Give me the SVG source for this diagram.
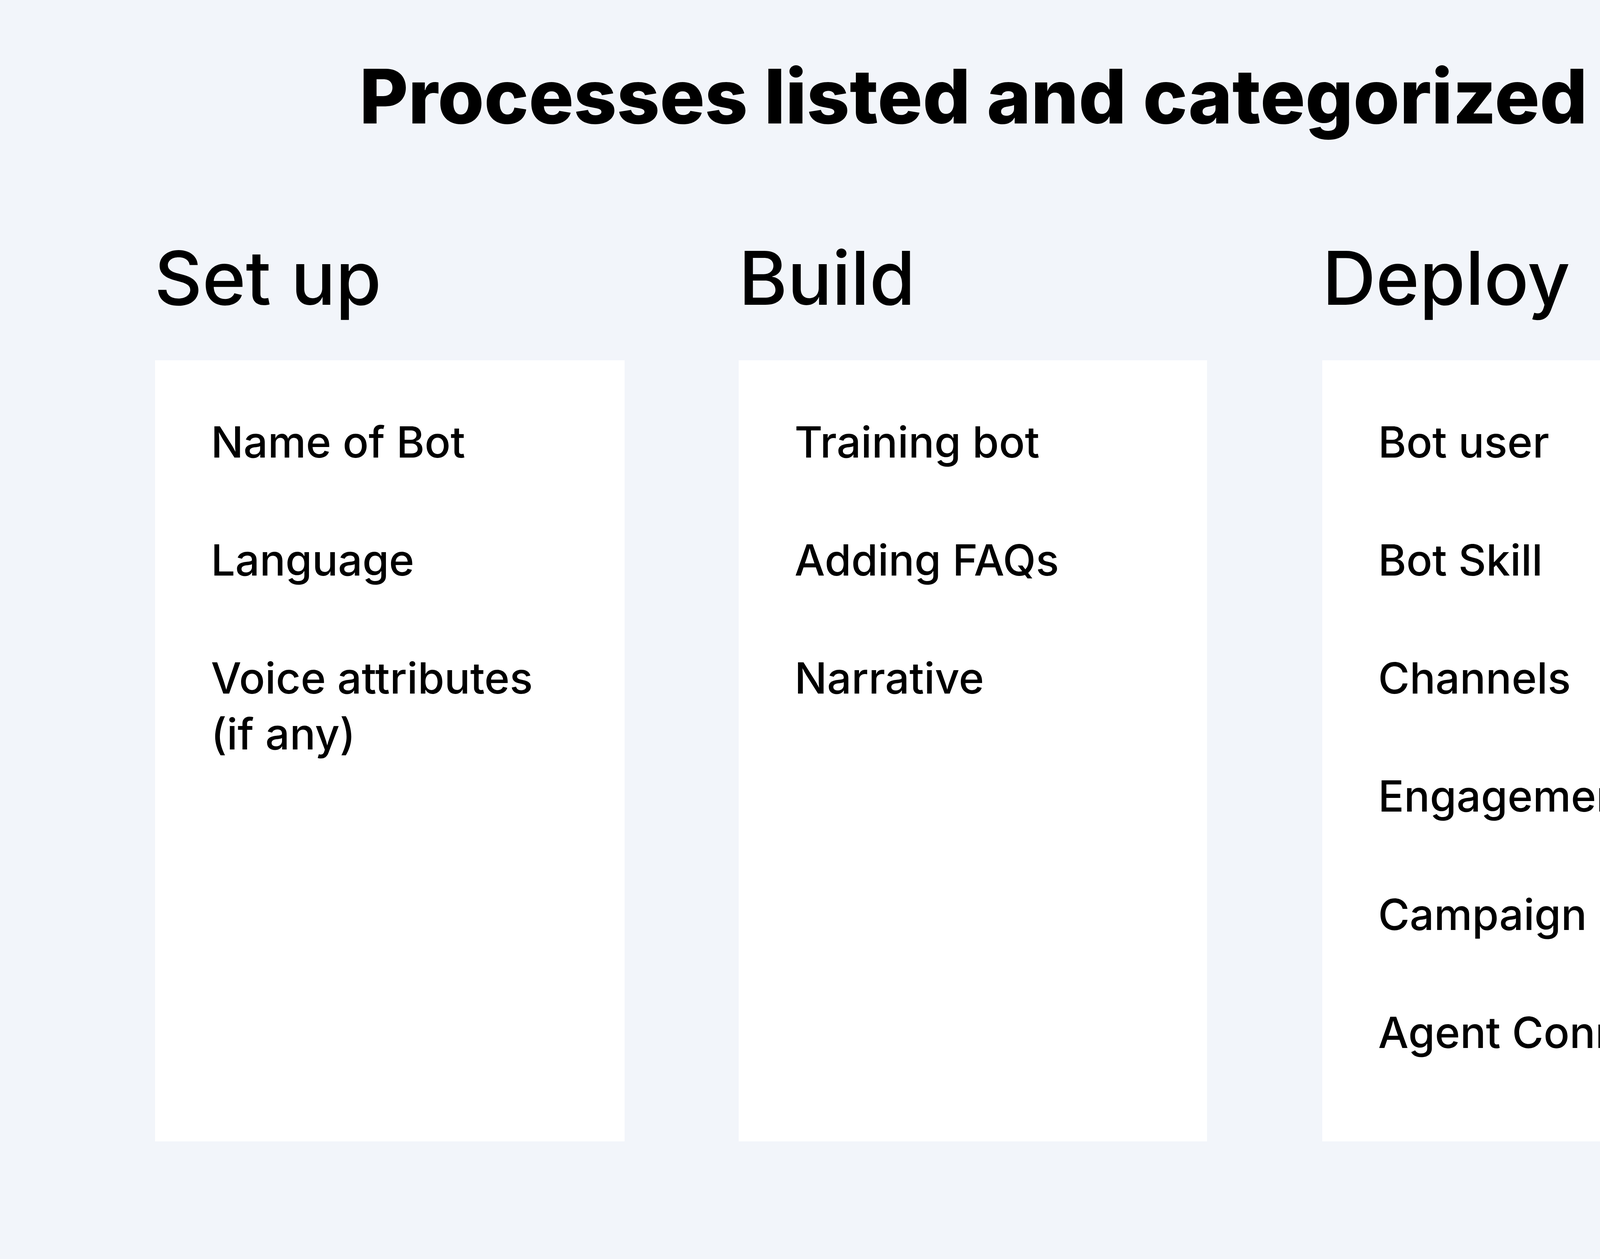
<svg xmlns="http://www.w3.org/2000/svg" width="4984" height="3222" viewBox="0 0 4984 3222">
<style>
.t{font-family:Inter,"Liberation Sans",sans-serif;fill:#000}
.title{font-size:192px;font-weight:800}
.h{font-size:190px;font-weight:500}
.i{font-size:110px;font-weight:500}
.box{fill:#fff}
</style>
<rect width="4984" height="3222" fill="#f2f5fa"/>
<text class="t title" x="2492" y="316" text-anchor="middle">Processes listed and categorized</text>
<g id="setup">
<text class="t h" x="395" y="780">Set up</text>
<rect class="box" x="397" y="922" width="1202" height="1999"/>
<text class="t i" x="540" y="1171">Name of Bot</text>
<text class="t i" x="540" y="1473">Language</text>
<text class="t i" x="540" y="1775">Voice attributes</text>
<text class="t i" x="540" y="1918">(if any)</text>
</g>
<g id="build">
<text class="t h" x="1891" y="780">Build</text>
<rect class="box" x="1891" y="922" width="1199" height="1999"/>
<text class="t i" x="2034" y="1171">Training bot</text>
<text class="t i" x="2034" y="1473">Adding FAQs</text>
<text class="t i" x="2034" y="1775">Narrative</text>
</g>
<g id="deploy">
<text class="t h" x="3385" y="780">Deploy</text>
<rect class="box" x="3385" y="922" width="1199" height="1999"/>
<text class="t i" x="3528" y="1171">Bot user</text>
<text class="t i" x="3528" y="1473">Bot Skill</text>
<text class="t i" x="3528" y="1775">Channels</text>
<text class="t i" x="3528" y="2077">Engagement</text>
<text class="t i" x="3528" y="2380">Campaign</text>
<text class="t i" x="3528" y="2682">Agent Connector</text>
</g>
<g id="connectors"/>
</svg>
